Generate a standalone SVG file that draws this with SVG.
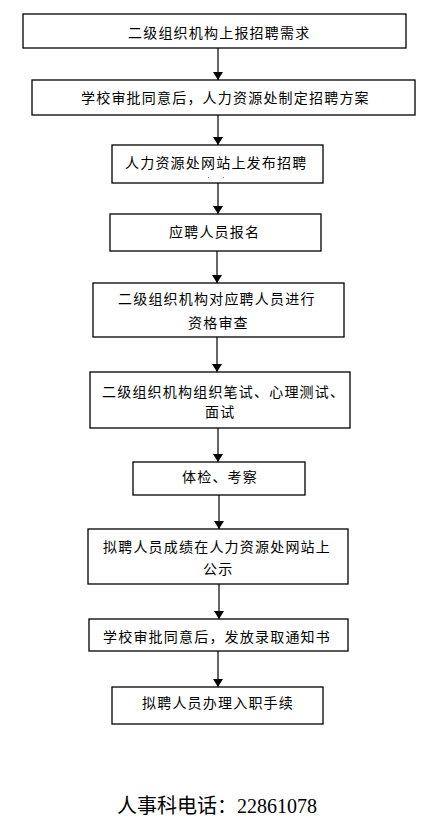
<svg xmlns="http://www.w3.org/2000/svg" width="433" height="838" viewBox="0 0 433 838">
<style>
.box{fill:#fff;stroke:#000;stroke-width:1.3}
.t{font-family:"Noto Sans CJK SC","Liberation Sans",sans-serif;font-size:14px;letter-spacing:1.2px;fill:#000}
.c{stroke:#000;stroke-width:1.2;fill:none}
.foot{font-family:"Liberation Serif","Noto Sans CJK SC",serif;font-size:20px;fill:#000}
</style>
<defs>
<marker id="ah" viewBox="0 0 8 10" refX="8" refY="5" markerWidth="8" markerHeight="10" markerUnits="userSpaceOnUse" orient="auto">
<path d="M0,0 L8,5 L0,10 z" fill="#000"/>
</marker>
</defs>
<rect width="433" height="838" fill="#fff"/>
<g id="connectors">
<line class="c" x1="218" y1="48" x2="218" y2="80" marker-end="url(#ah)"/>
<line class="c" x1="218" y1="115" x2="218" y2="145" marker-end="url(#ah)"/>
<line class="c" x1="218" y1="183" x2="218" y2="214" marker-end="url(#ah)"/>
<line class="c" x1="217" y1="251" x2="217" y2="283" marker-end="url(#ah)"/>
<line class="c" x1="217" y1="337" x2="217" y2="372" marker-end="url(#ah)"/>
<line class="c" x1="218" y1="428" x2="218" y2="462" marker-end="url(#ah)"/>
<line class="c" x1="219" y1="495" x2="219" y2="529" marker-end="url(#ah)"/>
<line class="c" x1="219" y1="584" x2="219" y2="619" marker-end="url(#ah)"/>
<line class="c" x1="218" y1="651" x2="218" y2="687" marker-end="url(#ah)"/>
</g>
<g id="n1"><rect class="box" x="23" y="14" width="383" height="34"/><text class="t" x="128" y="38">二级组织机构上报招聘需求</text></g>
<g id="n2"><rect class="box" x="32" y="80" width="383" height="35"/><text class="t" x="81" y="103">学校审批同意后，人力资源处制定招聘方案</text></g>
<g id="n3"><rect class="box" x="112" y="145" width="211" height="38"/><text class="t" x="125" y="168">人力资源处网站上发布招聘</text><circle cx="208.5" cy="177.5" r="0.6" fill="#666"/><circle cx="223.5" cy="177.5" r="0.6" fill="#666"/></g>
<g id="n4"><rect class="box" x="110" y="214" width="211" height="37"/><text class="t" x="169" y="237">应聘人员报名</text></g>
<g id="n5"><rect class="box" x="93" y="283" width="251" height="54"/><text class="t" x="118" y="304">二级组织机构对应聘人员进行</text><text class="t" x="188" y="328">资格审查</text></g>
<g id="n6"><rect class="box" x="90" y="372" width="260" height="56"/><text class="t" x="102" y="397">二级组织机构组织笔试、心理测试、</text><text class="t" x="205" y="417">面试</text></g>
<g id="n7"><rect class="box" x="133" y="462" width="172" height="33"/><text class="t" x="182" y="482">体检、考察</text></g>
<g id="n8"><rect class="box" x="88" y="529" width="260" height="55"/><text class="t" x="103" y="552">拟聘人员成绩在人力资源处网站上</text><text class="t" x="203" y="574">公示</text></g>
<g id="n9"><rect class="box" x="89" y="619" width="259" height="32"/><text class="t" x="103" y="642">学校审批同意后，发放录取通知书</text></g>
<g id="n10"><rect class="box" x="112" y="687" width="211" height="37"/><text class="t" x="142" y="708">拟聘人员办理入职手续</text></g>
<text class="foot" x="117" y="813">人事科电话：22861078</text>
</svg>
